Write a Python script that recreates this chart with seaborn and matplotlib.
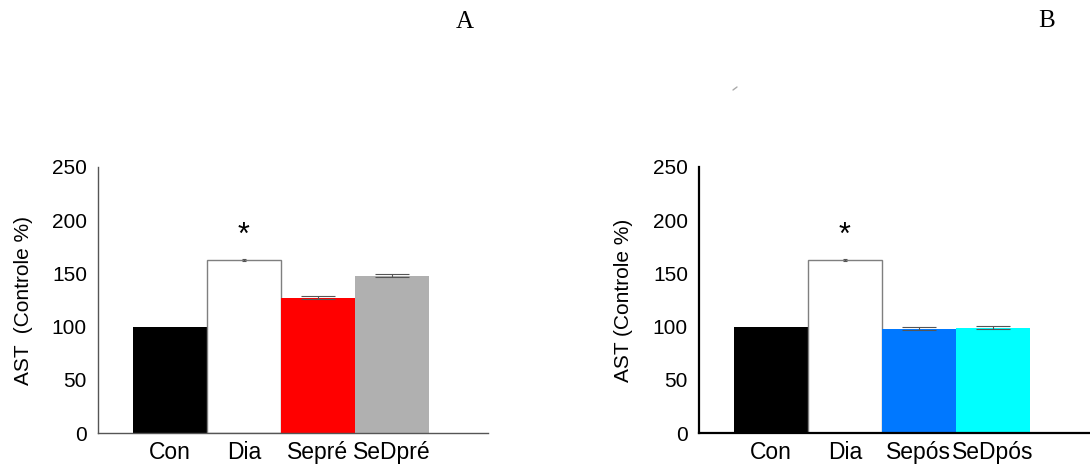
import matplotlib
matplotlib.use("Agg")
import matplotlib.pyplot as plt
import seaborn as sns
import pandas as pd
from matplotlib.lines import Line2D

groups_a = ["Con", "Dia", "Sepré", "SeDpré"]
ast_a = [100, 163, 127, 148]
err_a = [0, 1, 1.5, 1.5]
colors_a = ["#000000", "#ffffff", "#ff0000", "#b0b0b0"]

groups_b = ["Con", "Dia", "Sepós", "SeDpós"]
ast_b = [100, 163, 98, 99]
err_b = [0, 1, 1.5, 1.5]
colors_b = ["#000000", "#ffffff", "#0078ff", "#00ffff"]

y_ticks = [0, 50, 100, 150, 200, 250]
sig_group = "Dia"

sns.set_style("white")
plt.rcParams["font.family"] = ["Liberation Sans", "DejaVu Sans"]
plt.rcParams["text.color"] = "black"
plt.rcParams["axes.labelcolor"] = "black"
plt.rcParams["xtick.color"] = "black"
plt.rcParams["ytick.color"] = "black"


def bar_panel(ax, groups, values, errs, colors, ylabel, axis_color, axis_lw):
    df = pd.DataFrame({"grupo": groups, "AST": values})
    sns.barplot(data=df, x="grupo", y="AST", hue="grupo", palette=colors,
                width=1.0, saturation=1, legend=False, ax=ax, errorbar=None)
    for p, c in zip(ax.patches, colors):
        if c == "#ffffff":
            p.set_edgecolor("#7f7f7f")
            p.set_linewidth(1.0)
        else:
            p.set_linewidth(0)
    for i, (v, e, c) in enumerate(zip(values, errs, colors)):
        if e <= 0:
            continue
        cap = 1.5 if c == "#ffffff" else 12
        ax.errorbar(i, v, yerr=e, fmt="none", ecolor="#555555",
                    elinewidth=0.8, capsize=cap, capthick=0.8)
    i = groups.index(sig_group)
    ax.text(i, values[i] + 22, "*", ha="center", va="center", fontsize=22)
    ax.set_xlim(-0.97, 4.3)
    ax.set_ylim(0, 250)
    ax.set_yticks(y_ticks)
    ax.set_xlabel("")
    ax.set_ylabel(ylabel, fontsize=15)
    sns.despine(ax=ax)
    for s in ["left", "bottom"]:
        ax.spines[s].set_color(axis_color)
        ax.spines[s].set_linewidth(axis_lw)
    ax.tick_params(axis="y", direction="in", length=3, width=0.6,
                   color="#999999", labelsize=15, pad=8)
    ax.tick_params(axis="x", length=0, labelsize=16.5, pad=6)


fig = plt.figure(figsize=(10.9, 4.7), dpi=100)
ax1 = fig.add_axes([0.0899, 0.0787, 0.3578, 0.566])
ax2 = fig.add_axes([0.6413, 0.0787, 0.3578, 0.566])

bar_panel(ax1, groups_a, ast_a, err_a, colors_a, "AST  (Controle %)", "#555555", 1.0)
bar_panel(ax2, groups_b, ast_b, err_b, colors_b, "AST (Controle %)", "#000000", 1.6)
ax1.yaxis.set_label_coords(-0.167, 0.5)
ax2.yaxis.set_label_coords(-0.169, 0.5)

fig.text(465 / 1090, 1 - 22 / 470, "A", family=["Liberation Serif"], fontsize=18,
         ha="center", va="center")
fig.text(1047 / 1090, 1 - 21 / 470, "B", family=["Liberation Serif"], fontsize=18,
         ha="center", va="center")
# small stray mark above panel B
fig.add_artist(Line2D([733 / 1090, 737 / 1090], [1 - 90 / 470, 1 - 87 / 470],
                      color="#aaaaaa", lw=1))

fig.savefig("out.png", dpi=100)
